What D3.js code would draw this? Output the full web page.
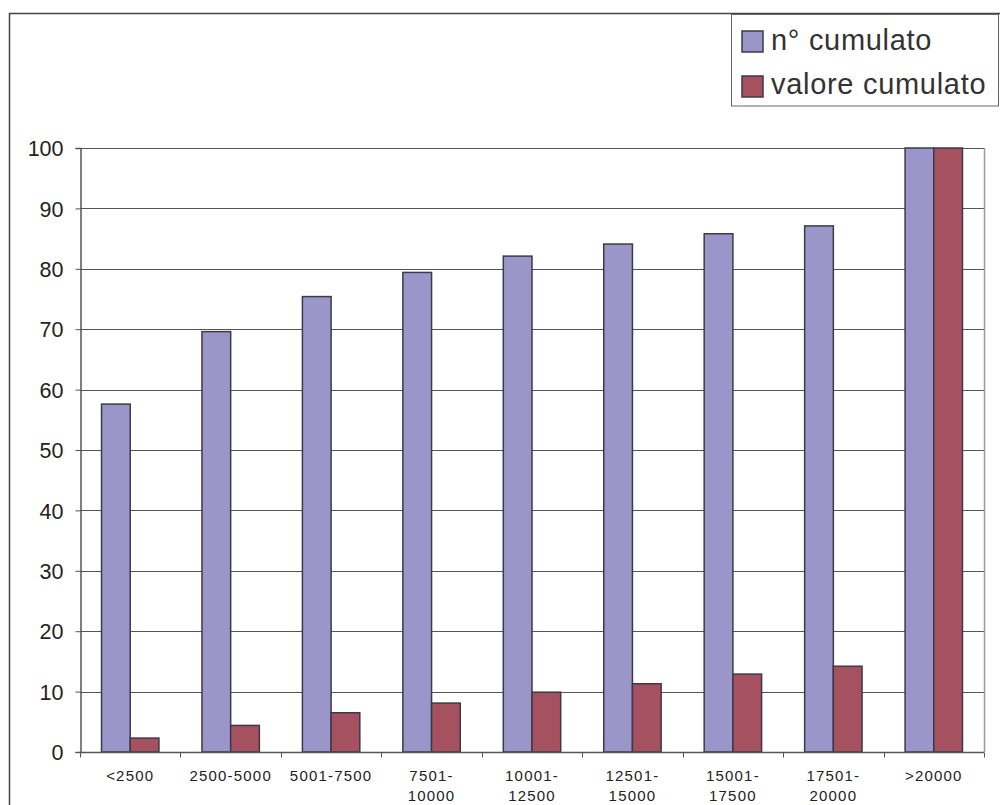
<!DOCTYPE html>
<html>
<head>
<meta charset="utf-8">
<script src="https://cdn.jsdelivr.net/npm/d3@7"></script>
<style>
body{margin:0;background:#fff;}
svg{display:block;font-family:"Liberation Sans",Arial,sans-serif;}
</style>
</head>
<body>
<div id="chart"></div>
<script>
// dati
var categorie=[["<2500"],["2500-5000"],["5001-7500"],["7501-","10000"],["10001-","12500"],
               ["12501-","15000"],["15001-","17500"],["17501-","20000"],[">20000"]]
var serie=["n° cumulato","valore cumulato"]
var nCumulato=[57.6,69.6,75.4,79.4,82.1,84.1,85.8,87.1,100]
var valoreCumulato=[2.3,4.4,6.5,8.1,9.9,11.3,12.9,14.2,100]
var yTicks=[0,10,20,30,40,50,60,70,80,90,100]
var colori=["#9a96c9","#a5515f"]

const W=1000,H=805
const mLeft=80,mRight=984,mTop=148,mBottom=752

let svg=d3.select("#chart").append("svg").attr("width",W).attr("height",H)

// bordo esterno
svg.append("rect").attr("x",9.5).attr("y",13.5).attr("width",1000).attr("height",800)
    .attr("fill","none").attr("stroke","#444").attr("stroke-width",1.5)

let x=d3.scaleBand().domain(d3.range(categorie.length)).range([mLeft,mRight])
let y=d3.scaleLinear().domain([0,100]).range([mBottom,mTop])
// larghezza barra: gap 150%
let bw=x.bandwidth()/3.5
let off=bw*0.75

// griglia
svg.append("g").selectAll("line").data(yTicks).enter().append("line")
    .attr("x1",mLeft).attr("x2",mRight)
    .attr("y1",d=>Math.round(y(d))+0.5).attr("y2",d=>Math.round(y(d))+0.5)
    .attr("stroke","#555").attr("stroke-width",1)
// bordo destro area
svg.append("line").attr("x1",mRight+0.5).attr("x2",mRight+0.5).attr("y1",mTop).attr("y2",mBottom)
    .attr("stroke","#999").attr("stroke-width",1.5)

// barre
let dati=[nCumulato,valoreCumulato]
dati.forEach(function(vals,s){
    svg.append("g").selectAll("rect").data(vals).enter().append("rect")
        .attr("x",(d,i)=>x(i)+off+s*bw)
        .attr("y",d=>y(d))
        .attr("width",bw)
        .attr("height",d=>mBottom-y(d))
        .attr("fill",colori[s]).attr("stroke","#3c3a48").attr("stroke-width",1.5)
})

// asse y
let ay=svg.append("g").attr("transform","translate("+(mLeft+0.5)+",0)")
    .call(d3.axisLeft(y).tickValues(yTicks).tickSize(5).tickPadding(12))
ay.select(".domain").attr("stroke","#555").attr("stroke-width",1.5)
ay.selectAll(".tick line").attr("stroke","#555")
ay.selectAll("text").attr("font-size",21.5).attr("fill","#222").attr("dy","0.36em")
    .attr("font-family","Liberation Sans, Arial, sans-serif")

// asse x
let ax=svg.append("g").attr("transform","translate(0,"+(mBottom+0.5)+")")
ax.append("line").attr("x1",mLeft).attr("x2",mRight).attr("stroke","#555").attr("stroke-width",1.5)
ax.selectAll("line.t").data(d3.range(categorie.length+1)).enter().append("line")
    .attr("class","t")
    .attr("x1",d=>Math.round(mLeft+d*x.step())+0.5).attr("x2",d=>Math.round(mLeft+d*x.step())+0.5)
    .attr("y1",0).attr("y2",5).attr("stroke","#555")
let lab=ax.selectAll("text").data(categorie).enter().append("text")
    .attr("text-anchor","middle").attr("font-size",15).attr("letter-spacing","1.2px").attr("fill","#222")
    .attr("transform",(d,i)=>"translate("+(x(i)+x.bandwidth()/2)+",28)")
lab.selectAll("tspan").data(d=>d).enter().append("tspan")
    .attr("x",0).attr("dy",(d,i)=>i==0?0:20).text(d=>d)

// legenda
let leg=svg.append("g")
leg.append("rect").attr("x",731.5).attr("y",14.5).attr("width",267).attr("height",91.5)
    .attr("fill","#fff").attr("stroke","#666").attr("stroke-width",1)
serie.forEach(function(s,i){
    leg.append("rect").attr("x",742).attr("y",31+i*45).attr("width",21).attr("height",21)
        .attr("fill",colori[i]).attr("stroke","#3c3a48").attr("stroke-width",1.5)
    leg.append("text").attr("x",771).attr("y",50+i*43.5).attr("font-size",29)
        .attr("letter-spacing","0.7px").attr("fill","#333")
        .text(s)
})
</script>
</body>
</html>
